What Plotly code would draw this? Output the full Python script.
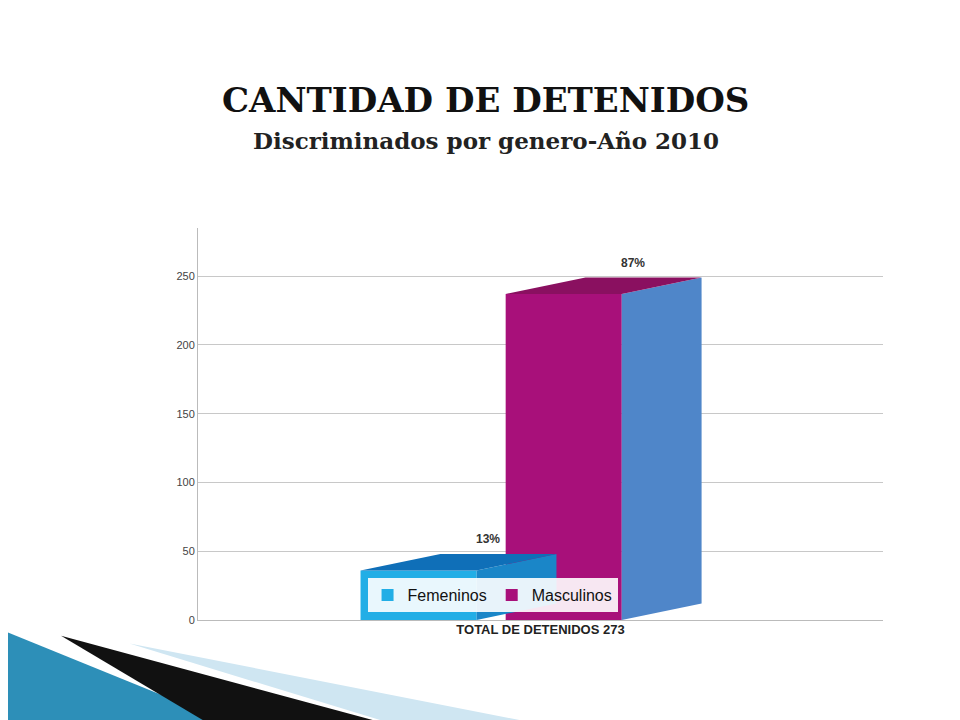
import plotly.graph_objects as go

categories = ["Femeninos", "Masculinos"]
values = [36, 237]
percent_labels = ["13%", "87%"]
front_colors = ["#22aee6", "#a8107a"]
side_colors = ["#1a86c8", "#4f86c9"]
top_colors = ["#0f6fb8", "#8a1060"]
total = 273

xpos = [0, 1]
width = 0.8
dx, dy = 0.55, 12  # fake 3D depth

fig = go.Figure()

for i, (cat, v) in enumerate(zip(categories, values)):
    fig.add_trace(go.Bar(
        x=[xpos[i]], y=[v], width=width, name=cat,
        marker=dict(color=front_colors[i], line=dict(width=0)),
    ))
    x0, x1 = xpos[i] - width / 2, xpos[i] + width / 2
    # side face
    fig.add_shape(type="path", layer="above", line=dict(width=0),
                  fillcolor=side_colors[i],
                  path=f"M {x1},0 L {x1+dx},{dy} L {x1+dx},{v+dy} L {x1},{v} Z")
    # top face
    fig.add_shape(type="path", layer="above", line=dict(width=0),
                  fillcolor=top_colors[i],
                  path=f"M {x0},{v} L {x0+dx},{v+dy} L {x1+dx},{v+dy} L {x1},{v} Z")
    fig.add_annotation(x=xpos[i] + dx / 2 + 0.2, y=v + dy + 4, text=f"<b>{percent_labels[i]}</b>",
                       showarrow=False, yanchor="bottom",
                       font=dict(size=12, color="#333", family="Liberation Sans"))

# titles
fig.add_annotation(xref="paper", yref="paper", x=0.42, y=1.0, yshift=150, showarrow=False,
                   text="<b>CANTIDAD DE DETENIDOS</b>",
                   font=dict(family="DejaVu Serif", size=34, color="#111"))
fig.add_annotation(xref="paper", yref="paper", x=0.42, y=1.0, yshift=103, showarrow=False,
                   text="<b>Discriminados por genero-Año 2010</b>",
                   font=dict(family="DejaVu Serif", size=23, color="#222"))

# decorative slide wedge
fig.add_shape(type="path", xref="paper", yref="paper", layer="below",
              path="M -0.28,-0.3 L -0.28,-0.03 L 0.1,-0.3 Z",
              fillcolor="#2d8fb8", line=dict(width=0))
fig.add_shape(type="path", xref="paper", yref="paper", layer="below",
              path="M -0.2,-0.04 L 0.05,-0.3 L 0.35,-0.3 Z",
              fillcolor="#111", line=dict(width=0))
fig.add_shape(type="path", xref="paper", yref="paper", layer="below",
              path="M -0.1,-0.06 L 0.35,-0.3 L 0.6,-0.3 Z",
              fillcolor="#cfe6f2", line=dict(width=0))

fig.update_layout(
    width=960, height=720,
    paper_bgcolor="white", plot_bgcolor="white",
    margin=dict(l=190, r=85, t=220, b=108),
    showlegend=True,
    xaxis=dict(range=[-1.52, 3.2], showticklabels=False, showgrid=False,
               zeroline=False, showline=True, linecolor="#bbb",
               title=dict(text=f"<b>TOTAL DE DETENIDOS {total}</b>",
                          font=dict(size=13, family="Liberation Sans", color="#222"),
                          standoff=4)),
    yaxis=dict(range=[0, 285], tickvals=[0, 50, 100, 150, 200, 250],
               showgrid=True, gridcolor="#c8c8c8", zeroline=False,
               showline=True, linecolor="#bbb",
               tickfont=dict(size=11, color="#444", family="Liberation Sans")),
    legend=dict(orientation="h", x=0.43, xanchor="center", y=0.02, yanchor="bottom",
                font=dict(size=16, family="Liberation Sans", color="#111"),
                bgcolor="rgba(255,255,255,0.9)"),
)

fig.write_html("out.html")
